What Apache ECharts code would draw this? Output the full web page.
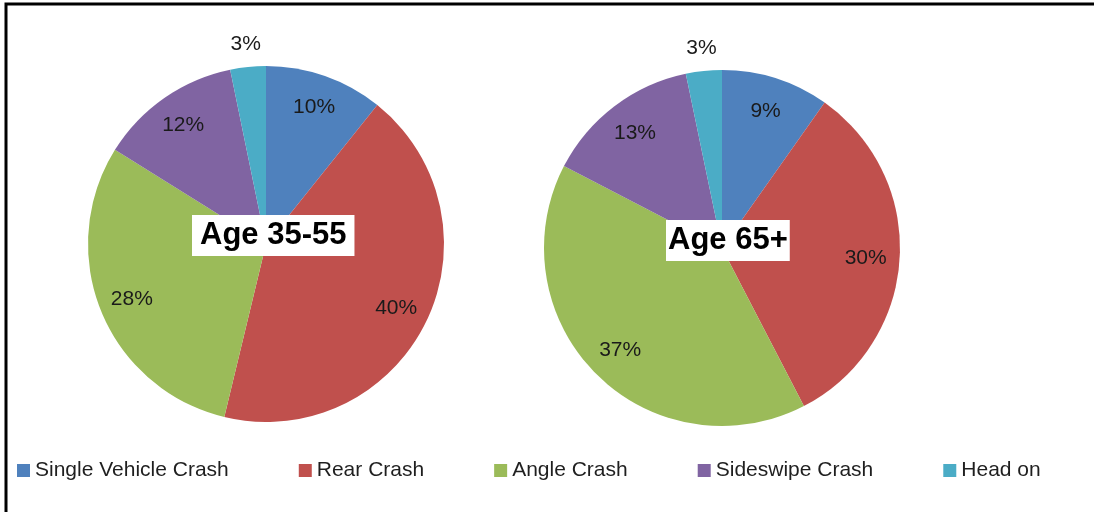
<!DOCTYPE html>
<html>
<head>
<meta charset="utf-8">
<script src="https://cdn.jsdelivr.net/npm/echarts@6/dist/echarts.min.js"></script>
<style>
  html, body { margin: 0; padding: 0; background: #fff; }
  #crash { width: 1094px; height: 512px; }
</style>
</head>
<body>
<div id="crash"></div>
<script>
var categories = ['Single Vehicle Crash', 'Rear Crash', 'Angle Crash', 'Sideswipe Crash', 'Head on'];
var age3555 = [10, 40, 28, 12, 3];
var age65 = [9, 30, 37, 13, 3];
var groupTitles = ['Age 35-55', 'Age 65+'];
var colors = ['#4F81BD', '#C0504D', '#9BBB59', '#8064A2', '#4BACC6'];

var font = 'Liberation Sans, Arial, sans-serif';

function toData(values) {
  return values.map(function (v, i) {
    return { name: categories[i], value: v };
  });
}

// main pie, no labels
function mainPie(values, center) {
  return {
    type: 'pie',
    center: center,
    radius: 178,
    startAngle: 90,
    label: { show: false },
    labelLine: { show: false },
    itemStyle: { borderWidth: 0 },
    emphasis: { disabled: true },
    animation: false,
    data: toData(values)
  };
}

// transparent ring only used to place the % labels at a given radius
function labelRing(values, center, radius, onlyLast) {
  return {
    type: 'pie',
    center: center,
    radius: radius,
    startAngle: 90,
    silent: true,
    avoidLabelOverlap: false,
    itemStyle: { color: 'rgba(0,0,0,0)', borderWidth: 0 },
    labelLine: { show: false },
    emphasis: { disabled: true },
    animation: false,
    label: {
      position: 'inside',
      formatter: function (p) {
        var last = p.dataIndex === values.length - 1;
        return (onlyLast ? last : !last) ? p.value + '%' : '';
      },
      color: '#1a1a1a',
      fontSize: 21,
      fontFamily: font
    },
    data: toData(values)
  };
}

var chart = echarts.init(document.getElementById('crash'));
var leftC = [266, 244];
var rightC = [722, 248];

var option = {
  color: colors,
  animation: false,
  title: [
    {
      text: groupTitles[0],
      left: 192,
      top: 215,
      padding: [3, 8, 3, 8],
      backgroundColor: '#fff',
      textStyle: { fontSize: 31, fontWeight: 'bold', color: '#000', fontFamily: font, lineHeight: 35 }
    },
    {
      text: groupTitles[1],
      left: 666,
      top: 220,
      padding: [3, 2, 3, 2],
      backgroundColor: '#fff',
      textStyle: { fontSize: 31, fontWeight: 'bold', color: '#000', fontFamily: font, lineHeight: 35 }
    }
  ],
  legend: {
    data: categories,
    left: 12,
    top: 455,
    itemWidth: 13,
    itemHeight: 13,
    itemGap: 70,
    icon: 'rect',
    selectedMode: false,
    textStyle: { fontSize: 21, color: '#1f1f1f', fontFamily: font }
  },
  graphic: [
    {
      type: 'polyline',
      shape: { points: [[6, 512], [6, 4], [1094, 4]] },
      style: { stroke: '#000', lineWidth: 3, fill: null },
      silent: true
    }
  ],
  series: [
    mainPie(age3555, leftC),
    mainPie(age65, rightC),
    labelRing(age3555, leftC, [106, 178], false),
    labelRing(age65, rightC, [104, 178], false),
    labelRing(age3555, leftC, [188, 208], true),
    labelRing(age65, rightC, [188, 208], true)
  ]
};
option && chart.setOption(option);
</script>
</body>
</html>
